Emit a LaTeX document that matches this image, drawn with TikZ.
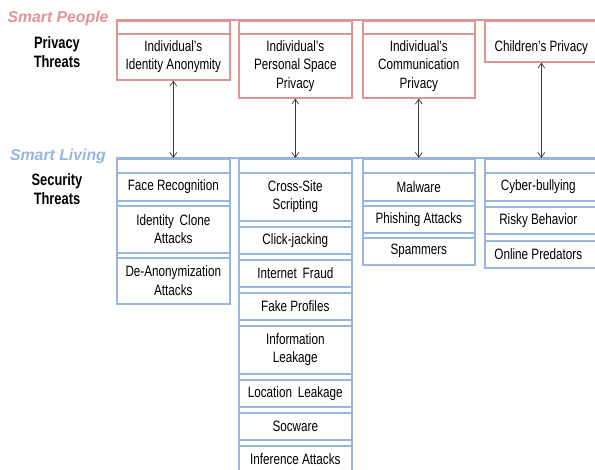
\documentclass[tikz,border=0pt]{standalone}
\usepackage{fontspec}
\usepackage{xcolor}
\setmainfont{Liberation Sans}
\newfontfamily\narrowsans{Liberation Sans}[FakeStretch=0.78]
\usetikzlibrary{arrows.meta,positioning}

\definecolor{peoplepink}{RGB}{224,148,148}
\definecolor{livingblue}{RGB}{152,182,224}
\definecolor{arrowgray}{RGB}{60,60,60}

\newcommand{\boxfont}{\narrowsans\fontsize{15}{18.5}\selectfont}
\newcommand{\lblfont}{\narrowsans\bfseries\fontsize{16.5}{19}\selectfont}
\newcommand{\headfont}{\bfseries\itshape\fontsize{15.8}{18}\selectfont}

\tikzset{
  pframe/.style={draw=peoplepink,line width=1.6pt,anchor=north west,inner sep=0pt,minimum width=113},
  sframe/.style={draw=livingblue,line width=1.6pt,anchor=north west,inner sep=0pt,minimum width=113},
  pbox/.style={pframe,align=center,font=\boxfont},
  sbox/.style={sframe,align=center,font=\boxfont},
  sidelbl/.style={align=center,font=\lblfont},
  link/.style={<->,arrowgray,line width=0.7pt}
}

\begin{document}
\begin{tikzpicture}[x=1pt,y=-1pt,>={Straight Barb[length=5pt,width=7pt]}]
  \useasboundingbox (0,0) rectangle (595,470);

  % --- side labels ---
  \node[font=\headfont,text=peoplepink] (smartPeople) at (58,18) {Smart People};
  \node[sidelbl] (privThreats) at (57,52) {Privacy\\Threats};
  \node[font=\headfont,text=livingblue] (smartLiving) at (58,156) {Smart Living};
  \node[sidelbl] (secThreats) at (57,189) {Security\\Threats};

  % --- privacy columns ---
  \node[pframe,minimum height=59] (pCol1) at (116,20) {};
  \node[pframe,minimum height=77] (pCol2) at (238,20) {};
  \node[pframe,minimum height=77,minimum width=112] (pCol3) at (362,20) {};
  \node[pframe,minimum height=41] (pCol4) at (484,20) {};
  \draw[peoplepink,line width=1.6pt] (pCol1.north west) -- (pCol4.north east);

  \node[pbox,minimum height=46] (pIdent) at (116,33) {Individual’s\\Identity Anonymity};
  \node[pbox,minimum height=64] (pSpace) at (238,33) {Individual’s\\Personal Space\\Privacy};
  \node[pbox,minimum height=64,minimum width=112] (pComm) at (362,33) {Individual’s\\Communication\\Privacy};
  \node[pbox,draw=none,minimum height=28] (pChild) at (484,33) {Children’s Privacy};

  % --- security columns ---
  \node[sframe,minimum height=145] (sCol1) at (116,158) {};
  \node[sframe,minimum height=330] (sCol2) at (238,158) {};
  \node[sframe,minimum height=106,minimum width=112] (sCol3) at (362,158) {};
  \node[sframe,minimum height=109] (sCol4) at (484,158) {};
  \draw[livingblue,line width=1.6pt] (sCol1.north west) -- (sCol4.north east);

  % threats: name/top/height/text
  \foreach \nm/\yy/\hh/\txt in {faceRec/172/28/{Face Recognition},
      idClone/205/47/{Identity\, Clone\\Attacks},
      deAnon/257/46/{De-Anonymization\\Attacks}}
    \node[sbox,minimum height=\hh] (\nm) at (116,\yy) {\txt};

  \foreach \nm/\yy/\hh/\txt in {xss/172/48/{Cross-Site\\Scripting},
      clickJack/226/27/{Click-jacking},
      netFraud/259/27/{Internet\, Fraud},
      fakeProf/292/27/{Fake Profiles},
      infoLeak/325/48/{Information\\Leakage},
      locLeak/379/27/{Location\, Leakage},
      socware/412/27/{Socware},
      inference/445/27/{Inference Attacks}}
    \node[sbox,minimum height=\hh] (\nm) at (238,\yy) {\txt};

  \foreach \nm/\yy/\hh/\txt in {malware/172/28/{Malware},
      phishing/205/27/{Phishing Attacks},
      spammers/237/27/{Spammers}}
    \node[sbox,minimum height=\hh,minimum width=112] (\nm) at (362,\yy) {\txt};

  \foreach \nm/\yy/\hh/\txt in {cyberBully/172/28/{Cyber-bullying},
      risky/206/27/{Risky Behavior},
      predators/240/27/{Online Predators}}
    \node[sbox,minimum height=\hh] (\nm) at (484,\yy) {\hspace*{-6pt}\txt};

  % --- links between the two layers ---
  \draw[link] (pIdent.south) -- (sCol1.north);
  \draw[link] (pSpace.south) -- (sCol2.north);
  \draw[link] (pComm.south) -- (sCol3.north);
  \draw[link] (pCol4.south) -- (sCol4.north);
\end{tikzpicture}
\end{document}
